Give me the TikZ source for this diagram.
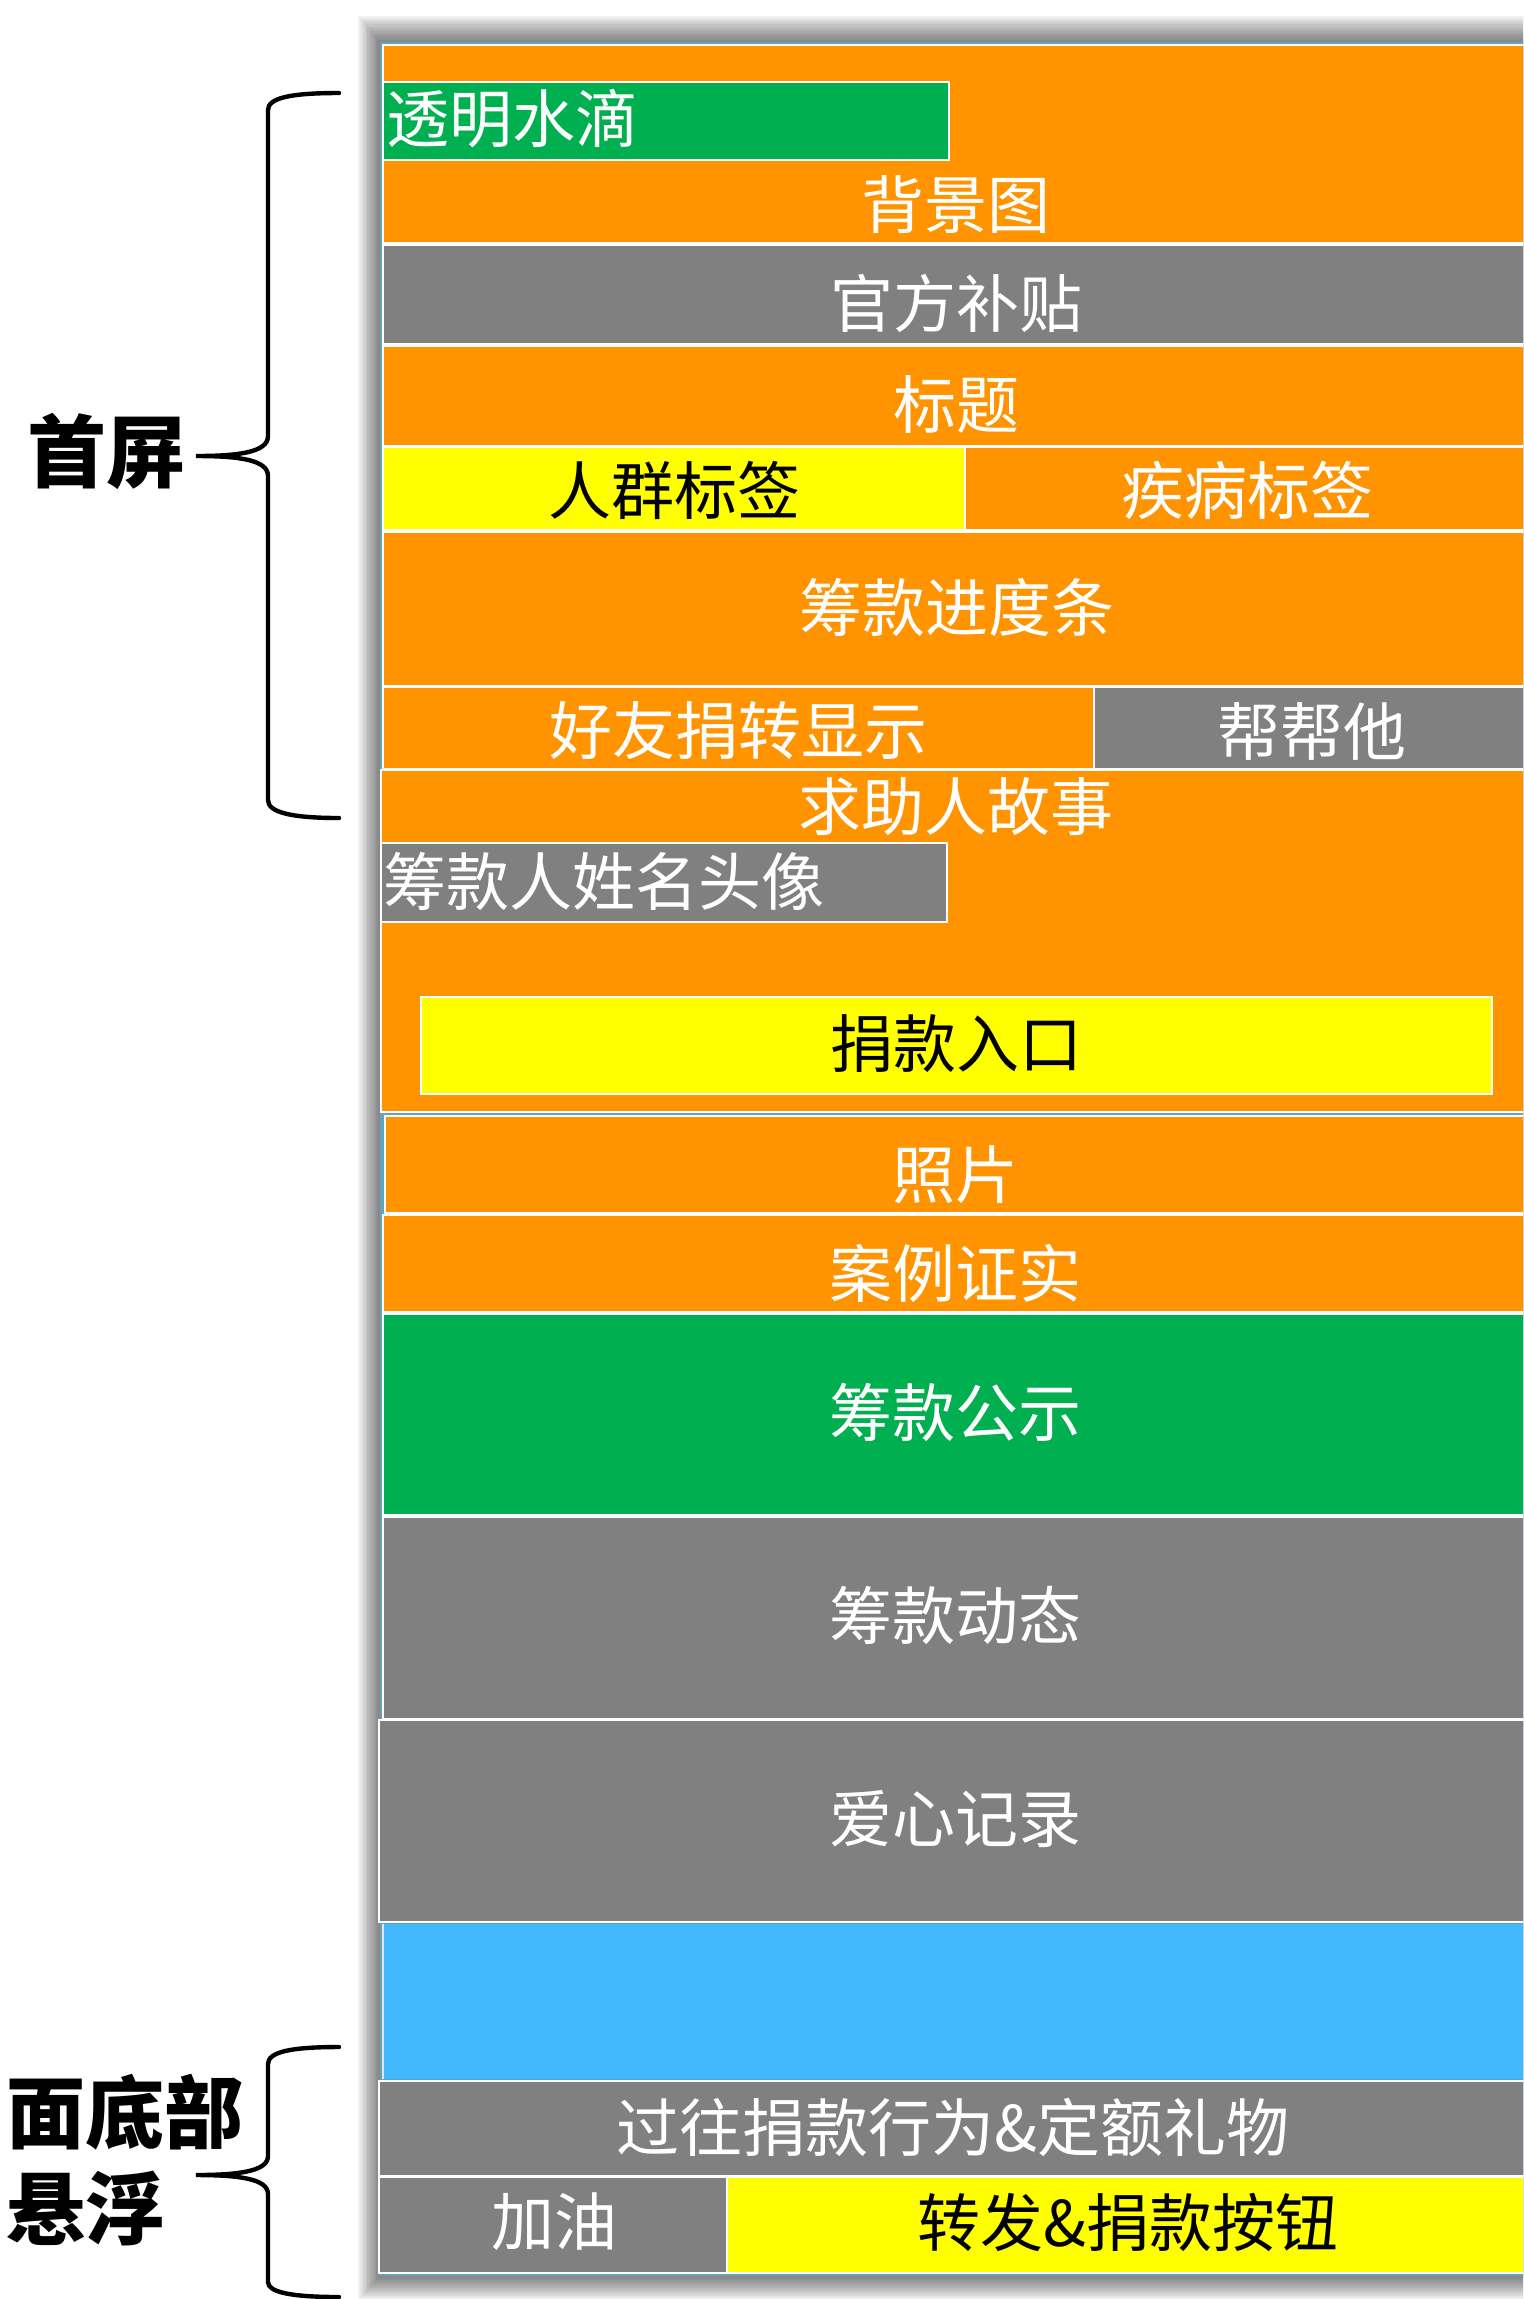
\documentclass[tikz,border=0pt]{standalone}
\usepackage{fontspec}
\newfontfamily\cjk{Noto Sans CJK SC}
\definecolor{orng}{RGB}{255,147,0}
\definecolor{grn}{RGB}{0,176,80}
\definecolor{gry}{RGB}{128,128,128}
\definecolor{yel}{RGB}{255,255,0}
\definecolor{sky}{RGB}{66,185,253}
\definecolor{frame}{RGB}{96,165,192}
\begin{document}
\begin{tikzpicture}[x=0.5pt,y=-0.5pt,
  cell/.style={draw=white,line width=1pt},
  wlab/.style={text=white,font=\cjk\fontsize{31.5pt}{32pt}\selectfont,inner sep=0pt},
  blab/.style={text=black,font=\cjk\fontsize{31.5pt}{32pt}\selectfont,inner sep=0pt},
  side/.style={text=black,font=\cjk\bfseries\fontsize{39.5pt}{41pt}\selectfont,inner sep=0pt},
  brace/.style={draw=black,line width=2.2pt,line cap=round}]
\useasboundingbox (0,0) rectangle (1523,2299);
\clip (0,0) rectangle (1523,2299);
% shadow
\foreach \i in {1,...,12}{
  \fill[black,opacity=0.05] (380-1.8*\i,42-2.2*\i) rectangle (1560,2276+2*\i);
}
\fill[frame] (380,42) rectangle (1560,2276);
% rows
\fill[orng,cell] (383,45) rectangle (1560,243);
\fill[grn,cell] (383,82) rectangle (949,160);
\fill[gry,cell] (383,245) rectangle (1560,344);
\fill[orng,cell] (383,346) rectangle (1560,446);
\fill[yel,cell] (383,447) rectangle (965,530);
\fill[orng,cell] (965,447) rectangle (1560,530);
\fill[orng,cell] (383,532) rectangle (1560,686);
\fill[orng,cell] (383,687) rectangle (1094,769);
\fill[gry,cell] (1094,687) rectangle (1560,769);
\fill[orng,cell] (381,770) rectangle (1560,1112);
\fill[gry,cell] (381,843) rectangle (947,922);
\fill[yel,cell] (421,997) rectangle (1492,1094);
\fill[orng,cell] (385,1116) rectangle (1560,1213);
\fill[orng,cell] (383,1215) rectangle (1560,1312);
\fill[grn,cell] (383,1314) rectangle (1560,1515);
\fill[gry,cell] (383,1517) rectangle (1560,1719);
\fill[gry,cell] (379,1720) rectangle (1560,1922);
\fill[sky] (383,1924) rectangle (1560,2079);
\draw[white!80!gray,line width=0.8pt] (383,1924) -- (383,2079);
\fill[gry,cell] (379,2081) rectangle (1560,2176);
\fill[gry,cell] (379,2177) rectangle (727,2273);
\fill[yel,cell] (727,2177) rectangle (1560,2273);
% labels
\node[wlab,anchor=west] (drop) at (386,119) {透明水滴};
\node[wlab] (bgimg) at (956,205) {背景图};
\node[wlab] (subsidy) at (956,303) {官方补贴};
\node[wlab] (title) at (956,405) {标题};
\node[blab] (crowd) at (674,490) {人群标签};
\node[wlab] (disease) at (1247,490) {疾病标签};
\node[wlab] (progress) at (957,607) {筹款进度条};
\node[wlab] (friends) at (738,731) {好友捐转显示};
\node[wlab] (help) at (1312,731) {帮帮他};
\node[wlab] (story) at (956,807) {求助人故事};
\node[wlab,anchor=west] (raiser) at (383,881) {筹款人姓名头像};
\node[blab] (donate) at (956,1044) {捐款入口};
\node[wlab] (photo) at (955,1175) {照片};
\node[wlab] (proof) at (955,1273) {案例证实};
\node[wlab] (publ) at (955,1412) {筹款公示};
\node[wlab] (dyn) at (955,1615) {筹款动态};
\node[wlab] (love) at (955,1819) {爱心记录};
\node[wlab] (past) at (953,2127) {过往捐款行为\&定额礼物};
\node[wlab] (cheer) at (554,2222) {加油};
\node[blab] (share) at (1128,2222) {转发\&捐款按钮};
% side labels
\node[side] (first) at (106,451) {首屏};
\node[side,anchor=west] (bot1) at (6,2112) {面底部};
\node[side,anchor=west] (bot2) at (6,2208) {悬浮};
% braces
\coordinate (b1t) at (339,93);
\coordinate (b1m) at (196,456);
\coordinate (b1b) at (339,818);
\draw[brace] (b1t) .. controls (290,93) and (268,98) .. (268,110)
  -- (268,436) .. controls (268,452) and (240,456) .. (b1m)
  .. controls (240,456) and (268,460) .. (268,476)
  -- (268,800) .. controls (268,812) and (290,818) .. (b1b);
\coordinate (b2t) at (339,2047);
\coordinate (b2m) at (196,2175);
\coordinate (b2b) at (339,2297);
\draw[brace] (b2t) .. controls (290,2047) and (268,2052) .. (268,2064)
  -- (268,2156) .. controls (268,2171) and (240,2175) .. (b2m)
  .. controls (240,2175) and (268,2179) .. (268,2194)
  -- (268,2282) .. controls (268,2292) and (290,2297) .. (b2b);
\end{tikzpicture}
\end{document}
